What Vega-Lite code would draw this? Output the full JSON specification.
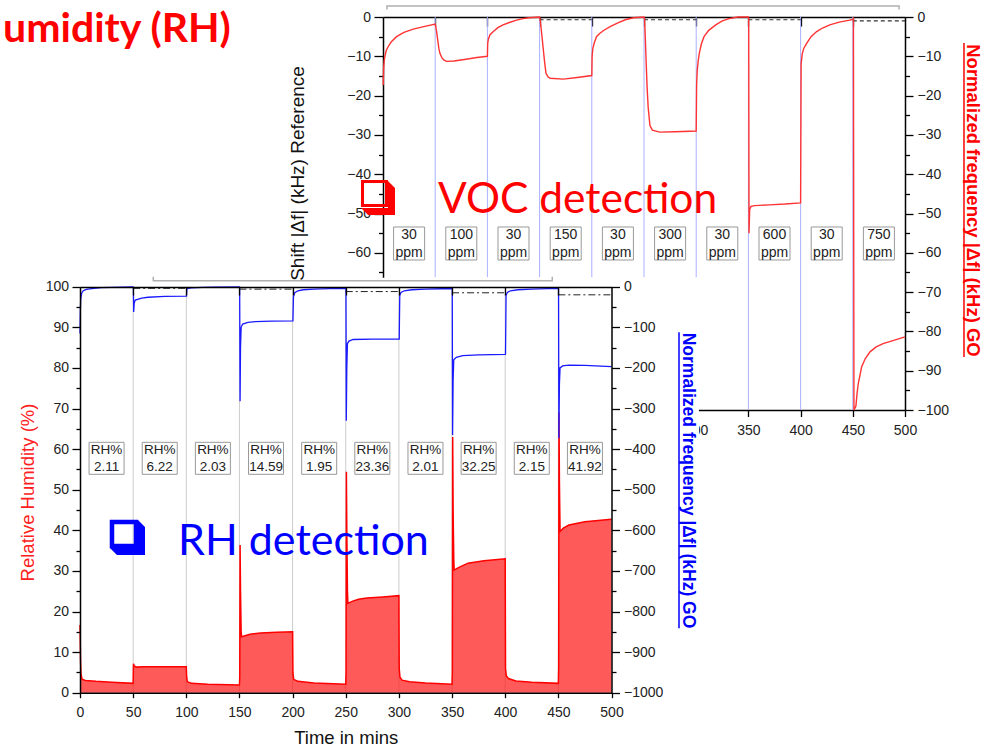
{
"$schema": "https://vega.github.io/schema/vega-lite/v6.json",
"width": 994, "height": 748, "autosize": "none", "padding": 0, "background": "#ffffff",
"config": {"view": {"stroke": null}, "axis": {"grid": false, "domainColor": "#000000", "domainWidth": 1.5, "tickColor": "#000000", "tickWidth": 1.3, "labelFont": "Liberation Sans", "labelFontSize": 14, "labelColor": "#222222", "titleFont": "Liberation Sans", "labelFlush": false, "labelOverlap": false, "titleFontWeight": "normal", "format": "d"}},
"datasets": {
"voc": [{"t":0.2,"v":-17.3},{"t":0.6,"v":-13},{"t":1.2,"v":-11},{"t":2,"v":-9.8},{"t":3,"v":-8.6},{"t":5,"v":-7.5},{"t":8,"v":-6.3},{"t":13,"v":-5},{"t":20,"v":-3.9},{"t":29,"v":-3.1},{"t":38,"v":-2.5},{"t":50,"v":-1.8},
{"t":50.4,"v":-2.2},{"t":51.5,"v":-4},{"t":52.5,"v":-6},{"t":53.5,"v":-8},{"t":54.6,"v":-9.3},{"t":56.5,"v":-10.4},{"t":58.5,"v":-11},{"t":61,"v":-11.3},{"t":68,"v":-11.2},{"t":78,"v":-10.8},{"t":90,"v":-10.3},{"t":100,"v":-10},
{"t":100.3,"v":-6.7},{"t":101,"v":-5.6},{"t":102.5,"v":-4.5},{"t":105.7,"v":-3.7},{"t":110,"v":-2.7},{"t":115,"v":-2},{"t":121,"v":-1.4},{"t":128,"v":-0.8},{"t":134,"v":-0.4},{"t":140,"v":-0.2},{"t":150,"v":0},
{"t":150.4,"v":-0.5},{"t":151.5,"v":-3},{"t":152.5,"v":-5.5},{"t":153.6,"v":-8.4},{"t":154.8,"v":-11.5},{"t":156.1,"v":-14.3},{"t":158,"v":-15.2},{"t":160,"v":-15.6},{"t":172.7,"v":-15.8},{"t":186,"v":-15.4},{"t":200,"v":-14.9},
{"t":200.3,"v":-10},{"t":201,"v":-8},{"t":202.5,"v":-6.5},{"t":204.5,"v":-5},{"t":207.5,"v":-4.2},{"t":212,"v":-3.3},{"t":218,"v":-2.4},{"t":225,"v":-1.5},{"t":232,"v":-0.7},{"t":240,"v":-0.2},{"t":250,"v":0},
{"t":250.5,"v":-0.5},{"t":251.2,"v":-5},{"t":252,"v":-11},{"t":253,"v":-18},{"t":254,"v":-23},{"t":255.7,"v":-27.6},{"t":258,"v":-28.8},{"t":265,"v":-29.3},{"t":280,"v":-29.2},{"t":300,"v":-29},
{"t":300.4,"v":-17.3},{"t":301,"v":-13.5},{"t":302,"v":-11},{"t":303,"v":-9.2},{"t":305,"v":-6.8},{"t":307.5,"v":-5},{"t":312,"v":-3.4},{"t":318.7,"v":-2},{"t":325,"v":-1},{"t":331.5,"v":-0.4},{"t":340,"v":0},{"t":350,"v":0},
{"t":350.3,"v":-0.3},{"t":350.6,"v":-55},{"t":351.2,"v":-49},{"t":352.5,"v":-48.2},{"t":356,"v":-48},{"t":370,"v":-47.8},{"t":385,"v":-47.6},{"t":400,"v":-47.3},
{"t":400.5,"v":-12},{"t":401.5,"v":-9.5},{"t":403,"v":-8},{"t":405.8,"v":-6.7},{"t":410,"v":-5},{"t":415.4,"v":-3.7},{"t":421,"v":-2.8},{"t":428,"v":-2},{"t":437,"v":-1.3},{"t":447,"v":-0.8},{"t":450,"v":-0.6},
{"t":450.6,"v":-0.4},{"t":451.1,"v":-100},{"t":453,"v":-99},{"t":454,"v":-96},{"t":455.3,"v":-93.2},{"t":458.5,"v":-89},{"t":462,"v":-86.9},{"t":466.5,"v":-85.2},{"t":472,"v":-84},{"t":479,"v":-83.1},{"t":490,"v":-82.2},{"t":500,"v":-81.4}],
"vref": [{"t":150,"v":-0.7,"s":1},{"t":200,"v":-0.7,"s":1},{"t":250,"v":-0.7,"s":2},{"t":300,"v":-0.7,"s":2},{"t":350,"v":-0.7,"s":3},{"t":400,"v":-0.7,"s":3},{"t":450,"v":-1,"s":4},{"t":500,"v":-1,"s":4}],
"tv1": [{"t":50},{"t":100},{"t":150},{"t":200},{"t":250},{"t":300}],
"tv2": [{"t":350},{"t":400},{"t":450}],
"ppm": [{"t":25,"label":"30\nppm"},{"t":75,"label":"100\nppm"},{"t":125,"label":"30\nppm"},{"t":175,"label":"150\nppm"},{"t":225,"label":"30\nppm"},{"t":275,"label":"300\nppm"},{"t":325,"label":"30\nppm"},{"t":375,"label":"600\nppm"},{"t":425,"label":"30\nppm"},{"t":475,"label":"750\nppm"}],
"tbr": [{"t":3.8,"v":1.9,"i":0},{"t":3.8,"v":2.8,"i":1},{"t":494.3,"v":2.8,"i":2},{"t":494.3,"v":1.9,"i":3}],
"bbr": [{"t":68.96,"v":102.46,"i":0},{"t":68.96,"v":101.48,"i":1},{"t":444.3,"v":101.48,"i":2},{"t":444.3,"v":102.46,"i":3}],
"bv": [{"t":50},{"t":100},{"t":150},{"t":200},{"t":250},{"t":300},{"t":350},{"t":400},{"t":450}],
"rh": [{"t":0,"v":16.7},{"t":0.5,"v":8},{"t":1,"v":4.5},{"t":2,"v":3.3},{"t":5,"v":3},{"t":15,"v":2.8},{"t":30,"v":2.6},{"t":50,"v":2.3},
{"t":50.3,"v":7.1},{"t":51,"v":6.6},{"t":53,"v":6.3},{"t":60,"v":6.4},{"t":80,"v":6.4},{"t":100,"v":6.4},
{"t":100.3,"v":4},{"t":101,"v":2.7},{"t":105,"v":2.3},{"t":120,"v":2.1},{"t":150,"v":1.9},
{"t":150.3,"v":4},{"t":150.6,"v":36.4},{"t":151,"v":25},{"t":151.6,"v":15},{"t":152,"v":13.8},{"t":160,"v":14.4},{"t":170,"v":14.7},{"t":185,"v":14.9},{"t":200,"v":15},
{"t":200.3,"v":5},{"t":201,"v":3.3},{"t":205,"v":2.8},{"t":220,"v":2.4},{"t":250,"v":2.1},
{"t":250.3,"v":5},{"t":250.6,"v":54.4},{"t":251,"v":40},{"t":251.6,"v":25},{"t":252,"v":22},{"t":256,"v":22.5},{"t":262,"v":23},{"t":270,"v":23.3},{"t":285,"v":23.6},{"t":300,"v":23.9},
{"t":300.3,"v":6},{"t":301,"v":3.8},{"t":303,"v":3.1},{"t":310,"v":2.7},{"t":325,"v":2.4},{"t":350,"v":2.1},
{"t":350.3,"v":5},{"t":350.6,"v":63},{"t":351,"v":45},{"t":351.6,"v":33},{"t":352,"v":30.2},{"t":356,"v":30.8},{"t":365,"v":31.9},{"t":380,"v":32.5},{"t":400,"v":33},
{"t":400.3,"v":6},{"t":401,"v":4.2},{"t":403,"v":3.5},{"t":410,"v":2.9},{"t":425,"v":2.6},{"t":450,"v":2.3},
{"t":450.3,"v":6},{"t":450.6,"v":69},{"t":451,"v":52},{"t":451.6,"v":39.7},{"t":455,"v":40.6},{"t":460,"v":41.3},{"t":475,"v":42.1},{"t":490,"v":42.5},{"t":500,"v":42.7}],
"go": [{"t":0,"v":-115},{"t":0.3,"v":-60},{"t":0.7,"v":-30},{"t":1.6,"v":-16},{"t":3,"v":-10},{"t":6,"v":-6.5},{"t":11,"v":-4.5},{"t":20,"v":-2.5},{"t":30,"v":-1.5},{"t":40,"v":-1},{"t":50,"v":-0.8},
{"t":50.2,"v":-1},{"t":50.5,"v":-62},{"t":51,"v":-40},{"t":52,"v":-33},{"t":58,"v":-28},{"t":64,"v":-26},{"t":80,"v":-24},{"t":100,"v":-23},
{"t":100.2,"v":-23},{"t":100.6,"v":-5},{"t":105,"v":-3},{"t":115,"v":-1.8},{"t":125,"v":-1},{"t":150,"v":-0.5},
{"t":150.2,"v":-1},{"t":150.6,"v":-282},{"t":151,"v":-150},{"t":151.6,"v":-100},{"t":153,"v":-92},{"t":158,"v":-88},{"t":165,"v":-86},{"t":180,"v":-85},{"t":200,"v":-84},
{"t":200.3,"v":-84},{"t":200.8,"v":-25},{"t":202,"v":-15},{"t":205,"v":-10},{"t":210,"v":-7.5},{"t":220,"v":-5.8},{"t":235,"v":-4.5},{"t":250,"v":-4},
{"t":250.2,"v":-5},{"t":250.5,"v":-330},{"t":251,"v":-200},{"t":251.6,"v":-140},{"t":253,"v":-134},{"t":257,"v":-130},{"t":275,"v":-129},{"t":300,"v":-129},
{"t":300.3,"v":-129},{"t":300.8,"v":-22},{"t":302,"v":-14},{"t":305,"v":-10},{"t":312,"v":-7.5},{"t":325,"v":-6},{"t":340,"v":-5},{"t":350,"v":-4.5},
{"t":350.2,"v":-5},{"t":350.5,"v":-365},{"t":351,"v":-230},{"t":351.6,"v":-180},{"t":354,"v":-174},{"t":360,"v":-170},{"t":375,"v":-168},{"t":400,"v":-166.5},
{"t":400.3,"v":-166},{"t":400.8,"v":-22},{"t":402,"v":-14},{"t":405,"v":-10},{"t":412,"v":-7.5},{"t":425,"v":-5.8},{"t":440,"v":-4.8},{"t":450,"v":-4.5},
{"t":450.2,"v":-5},{"t":450.5,"v":-373},{"t":451,"v":-240},{"t":451.6,"v":-200},{"t":454,"v":-195},{"t":460,"v":-193},{"t":475,"v":-194},{"t":490,"v":-195.5},{"t":500,"v":-197}],
"bref": [{"t":50,"v":-4,"s":1},{"t":100,"v":-4,"s":1},{"t":150,"v":-6,"s":2},{"t":200,"v":-6,"s":2},{"t":250,"v":-12,"s":3},{"t":300,"v":-12,"s":3},{"t":350,"v":-15,"s":4},{"t":400,"v":-15,"s":4},{"t":450,"v":-20,"s":5},{"t":500,"v":-20,"s":5}],
"rhbox": [{"t":25,"label":"RH%\n2.11"},{"t":75,"label":"RH%\n6.22"},{"t":125,"label":"RH%\n2.03"},{"t":175,"label":"RH%\n14.59"},{"t":225,"label":"RH%\n1.95"},{"t":275,"label":"RH%\n23.36"},{"t":325,"label":"RH%\n2.01"},{"t":375,"label":"RH%\n32.25"},{"t":425,"label":"RH%\n2.15"},{"t":475,"label":"RH%\n41.92"}]
},
"resolve": {"scale": {"x": "independent", "y": "independent"}, "axis": {"x": "independent", "y": "independent"}},
"layer": [
{"data": {"name": "tv1"}, "mark": {"type": "rule", "color": "#aab0ff", "strokeWidth": 1},
 "encoding": {"x": {"field": "t", "type": "quantitative", "scale": {"domain": [0,500], "range": [383,905], "nice": false, "zero": false}, "axis": null},
  "y": {"datum": 0, "type": "quantitative", "scale": {"domain": [-100,0], "range": [410,17], "nice": false, "zero": false}, "axis": null}, "y2": {"datum": -66.2}}},
{"data": {"name": "tv2"}, "mark": {"type": "rule", "color": "#aab0ff", "strokeWidth": 1},
 "encoding": {"x": {"field": "t", "type": "quantitative", "scale": {"domain": [0,500], "range": [383,905], "nice": false, "zero": false}, "axis": null},
  "y": {"datum": 0, "type": "quantitative", "scale": {"domain": [-100,0], "range": [410,17], "nice": false, "zero": false}, "axis": null}, "y2": {"datum": -100}}},
{"data": {"name": "vref"}, "mark": {"type": "line", "color": "#333333", "strokeWidth": 1.2, "strokeDash": [4,3]},
 "encoding": {"x": {"field": "t", "type": "quantitative", "scale": {"domain": [0,500], "range": [383,905], "nice": false, "zero": false}, "axis": null},
  "y": {"field": "v", "type": "quantitative", "scale": {"domain": [-100,0], "range": [410,17], "nice": false, "zero": false}, "axis": null}, "detail": {"field": "s"}}},
{"data": {"name": "voc"}, "mark": {"type": "line", "color": "#ff3333", "strokeWidth": 1.4},
 "encoding": {"x": {"field": "t", "type": "quantitative", "scale": {"domain": [0,500], "range": [383,905], "nice": false, "zero": false}, "axis": null},
  "y": {"field": "v", "type": "quantitative", "scale": {"domain": [-100,0], "range": [410,17], "nice": false, "zero": false}, "axis": null}}},
{"data": {"name": "ppm"}, "mark": {"type": "point", "shape": "M-0.94,-1H0.94V1H-0.94Z", "size": 1089, "filled": true, "color": "#ffffff", "stroke": "#999999", "strokeWidth": 1, "opacity": 1},
 "encoding": {"x": {"field": "t", "type": "quantitative", "scale": {"domain": [0,500], "range": [383,905], "nice": false, "zero": false}, "axis": null},
  "y": {"datum": -57.63, "type": "quantitative", "scale": {"domain": [-100,0], "range": [410,17], "nice": false, "zero": false}, "axis": null}}},
{"data": {"name": "ppm"}, "mark": {"type": "text", "lineBreak": "\n", "font": "Liberation Sans", "fontSize": 14, "lineHeight": 18, "color": "#222222", "align": "center", "baseline": "middle"},
 "encoding": {"x": {"field": "t", "type": "quantitative", "scale": {"domain": [0,500], "range": [383,905], "nice": false, "zero": false}, "axis": null},
  "y": {"datum": -55.47, "type": "quantitative", "scale": {"domain": [-100,0], "range": [410,17], "nice": false, "zero": false}, "axis": null}, "text": {"field": "label"}}},
{"data": {"name": "tbr"}, "mark": {"type": "line", "color": "#b0b0b0", "strokeWidth": 1.5},
 "encoding": {"x": {"field": "t", "type": "quantitative", "scale": {"domain": [0,500], "range": [383,905], "nice": false, "zero": false}, "axis": null},
  "y": {"field": "v", "type": "quantitative", "scale": {"domain": [-100,0], "range": [410,17], "nice": false, "zero": false}, "axis": null}, "order": {"field": "i"}}},
{"data": {"values": [{}]}, "mark": {"type": "rule", "color": "#ff0000", "strokeWidth": 1.5},
 "encoding": {"x": {"datum": 556.5, "type": "quantitative", "scale": {"domain": [0,500], "range": [383,905], "nice": false, "zero": false}, "axis": null},
  "y": {"datum": -6.6, "type": "quantitative", "scale": {"domain": [-100,0], "range": [410,17], "nice": false, "zero": false}, "axis": null}, "y2": {"datum": -86.5}}},
{"data": {"values": [{}]}, "mark": {"type": "point", "opacity": 0},
 "encoding": {"x": {"datum": 0, "type": "quantitative", "scale": {"domain": [0,500], "range": [383,905], "nice": false, "zero": false},
   "axis": {"orient": "bottom", "offset": -338, "values": [0,50,100,150,200,250,300,350,400,450,500], "tickSize": 6.5, "labelPadding": 7, "title": null, "zindex": 0}},
  "y": {"datum": 0, "type": "quantitative", "scale": {"domain": [-66.2,0], "range": [277.2,17], "nice": false, "zero": false},
   "axis": {"orient": "left", "offset": -383, "values": [0,-10,-20,-30,-40,-50,-60], "tickSize": 9, "labelPadding": 3.5, "zindex": 0,
    "title": "Shift |Δf| (kHz) Reference", "titleFontSize": 19, "titleColor": "#111111", "titleX": -80, "titleY": 173, "titleAngle": -90, "titleAlign": "center", "titleBaseline": "alphabetic"}}}},
{"data": {"values": [{}]}, "mark": {"type": "point", "opacity": 0},
 "encoding": {"x": {"datum": 0, "type": "quantitative", "scale": {"domain": [0,500], "range": [383,905], "nice": false, "zero": false},
   "axis": {"orient": "top", "offset": -17, "values": [50,100,150,200,250,300,350,400,450], "tickSize": -9, "labels": false, "title": null, "zindex": 0}},
  "y": {"datum": 0, "type": "quantitative", "scale": {"domain": [-66.2,0], "range": [277.2,17], "nice": false, "zero": false},
   "axis": {"orient": "left", "offset": -383, "values": [-5,-15,-25,-35,-45,-55,-65], "tickSize": 4.5, "labels": false, "domain": false, "title": null, "zindex": 0}}}},
{"data": {"values": [{}]}, "mark": {"type": "point", "opacity": 0},
 "encoding": {"y": {"datum": 0, "type": "quantitative", "scale": {"domain": [-100,0], "range": [410,17], "nice": false, "zero": false},
   "axis": {"orient": "right", "offset": -89, "values": [0,-10,-20,-30,-40,-50,-60,-70,-80,-90,-100], "tickSize": 8, "labelPadding": 4, "zindex": 0,
    "title": "Normalized frequency |Δf| (kHz) GO", "titleFontSize": 18.5, "titleFontWeight": "bold", "titleColor": "#ff0000", "titleX": 61, "titleY": 200, "titleAngle": 90, "titleAlign": "center", "titleBaseline": "alphabetic"}}}},
{"data": {"values": [{}]}, "mark": {"type": "point", "opacity": 0},
 "encoding": {"y": {"datum": 0, "type": "quantitative", "scale": {"domain": [-100,0], "range": [410,17], "nice": false, "zero": false},
   "axis": {"orient": "right", "offset": -89, "values": [-5,-15,-25,-35,-45,-55,-65,-75,-85,-95], "tickSize": 4.5, "labels": false, "domain": false, "title": null, "zindex": 0}}}},
{"data": {"values": [{}]}, "mark": {"type": "point", "shape": "M0.571,-0.943L0.971,-0.543L0.971,1L-0.571,1L-0.971,0.6L0.571,0.6Z", "size": 1225, "filled": true, "color": "#ff0000", "opacity": 1},
 "encoding": {"x": {"datum": -4.79, "type": "quantitative", "scale": {"domain": [0,500], "range": [383,905], "nice": false, "zero": false}, "axis": null},
  "y": {"datum": -45.93, "type": "quantitative", "scale": {"domain": [-100,0], "range": [410,17], "nice": false, "zero": false}, "axis": null}}},
{"data": {"values": [{}]}, "mark": {"type": "point", "shape": "M-0.886,-0.914H0.486V0.457H-0.886Z", "size": 1225, "filled": false, "color": "#ff0000", "strokeWidth": 3, "opacity": 1},
 "encoding": {"x": {"datum": -4.79, "type": "quantitative", "scale": {"domain": [0,500], "range": [383,905], "nice": false, "zero": false}, "axis": null},
  "y": {"datum": -45.93, "type": "quantitative", "scale": {"domain": [-100,0], "range": [410,17], "nice": false, "zero": false}, "axis": null}}},
{"data": {"values": [{}]}, "mark": {"type": "text", "text": "VOC detection", "font": "Lato", "fontSize": 42.5, "color": "#ff0000", "align": "left", "baseline": "alphabetic"},
 "encoding": {"x": {"datum": 52.7, "type": "quantitative", "scale": {"domain": [0,500], "range": [383,905], "nice": false, "zero": false}, "axis": null},
  "y": {"datum": -49.87, "type": "quantitative", "scale": {"domain": [-100,0], "range": [410,17], "nice": false, "zero": false}, "axis": null}}},
{"data": {"values": [{}]}, "mark": {"type": "rect", "color": "#ffffff", "opacity": 1},
 "encoding": {"x": {"datum": -76, "type": "quantitative", "scale": {"domain": [0,500], "range": [80,611.5], "nice": false, "zero": false}, "axis": null}, "x2": {"datum": 582.3},
  "y": {"datum": 95, "type": "quantitative", "scale": {"domain": [0,100], "range": [692.7,286.7], "nice": false, "zero": false}, "axis": null}, "y2": {"datum": -14}}},
{"data": {"name": "bv"}, "mark": {"type": "rule", "color": "#cccccc", "strokeWidth": 1},
 "encoding": {"x": {"field": "t", "type": "quantitative", "scale": {"domain": [0,500], "range": [80,611.5], "nice": false, "zero": false}, "axis": null},
  "y": {"datum": 0, "type": "quantitative", "scale": {"domain": [0,100], "range": [692.7,286.7], "nice": false, "zero": false}, "axis": null}, "y2": {"datum": 100}}},
{"data": {"name": "rh"}, "mark": {"type": "area", "color": "#ff1a1a", "opacity": 0.72},
 "encoding": {"x": {"field": "t", "type": "quantitative", "scale": {"domain": [0,500], "range": [80,611.5], "nice": false, "zero": false}, "axis": null},
  "y": {"field": "v", "type": "quantitative", "scale": {"domain": [0,100], "range": [692.7,286.7], "nice": false, "zero": false}, "axis": null}, "y2": {"datum": 0}}},
{"data": {"name": "rh"}, "mark": {"type": "line", "color": "#ff0000", "strokeWidth": 1.5},
 "encoding": {"x": {"field": "t", "type": "quantitative", "scale": {"domain": [0,500], "range": [80,611.5], "nice": false, "zero": false}, "axis": null},
  "y": {"field": "v", "type": "quantitative", "scale": {"domain": [0,100], "range": [692.7,286.7], "nice": false, "zero": false}, "axis": null}}},
{"data": {"name": "go"}, "mark": {"type": "line", "color": "#1a1aff", "strokeWidth": 1.3},
 "encoding": {"x": {"field": "t", "type": "quantitative", "scale": {"domain": [0,500], "range": [80,611.5], "nice": false, "zero": false}, "axis": null},
  "y": {"field": "v", "type": "quantitative", "scale": {"domain": [-1000,0], "range": [692.7,286.7], "nice": false, "zero": false}, "axis": null}}},
{"data": {"name": "bref"}, "mark": {"type": "line", "color": "#222222", "strokeWidth": 1, "strokeDash": [7,3,2,3]},
 "encoding": {"x": {"field": "t", "type": "quantitative", "scale": {"domain": [0,500], "range": [80,611.5], "nice": false, "zero": false}, "axis": null},
  "y": {"field": "v", "type": "quantitative", "scale": {"domain": [-1000,0], "range": [692.7,286.7], "nice": false, "zero": false}, "axis": null}, "detail": {"field": "s"}}},
{"data": {"name": "rhbox"}, "mark": {"type": "point", "shape": "M-1,-0.914H1V0.914H-1Z", "size": 1225, "filled": true, "color": "#ffffff", "stroke": "#999999", "strokeWidth": 1, "opacity": 1},
 "encoding": {"x": {"field": "t", "type": "quantitative", "scale": {"domain": [0,500], "range": [80,611.5], "nice": false, "zero": false}, "axis": null},
  "y": {"datum": 57.73, "type": "quantitative", "scale": {"domain": [0,100], "range": [692.7,286.7], "nice": false, "zero": false}, "axis": null}}},
{"data": {"name": "rhbox"}, "mark": {"type": "text", "lineBreak": "\n", "font": "Liberation Sans", "fontSize": 13.5, "lineHeight": 16.5, "color": "#222222", "align": "center", "baseline": "middle"},
 "encoding": {"x": {"field": "t", "type": "quantitative", "scale": {"domain": [0,500], "range": [80,611.5], "nice": false, "zero": false}, "axis": null},
  "y": {"datum": 59.76, "type": "quantitative", "scale": {"domain": [0,100], "range": [692.7,286.7], "nice": false, "zero": false}, "axis": null}, "text": {"field": "label"}}},
{"data": {"values": [{}]}, "mark": {"type": "point", "opacity": 0},
 "encoding": {"x": {"datum": 0, "type": "quantitative", "scale": {"domain": [0,500], "range": [80,611.5], "nice": false, "zero": false},
   "axis": {"orient": "bottom", "offset": -55.3, "values": [0,50,100,150,200,250,300,350,400,450,500], "tickSize": 5, "labelPadding": 8, "zindex": 1,
    "title": "Time in mins", "titleFontSize": 18.5, "titleColor": "#111111", "titleY": 50.6, "titleBaseline": "alphabetic"}},
  "y": {"datum": 0, "type": "quantitative", "scale": {"domain": [0,100], "range": [692.7,286.7], "nice": false, "zero": false},
   "axis": {"orient": "left", "offset": -80, "values": [0,10,20,30,40,50,60,70,80,90,100], "tickSize": 8, "labelPadding": 3.5, "zindex": 1,
    "title": "Relative Humidity (%)", "titleFontSize": 18.5, "titleColor": "#ff2020", "titleX": -46.7, "titleY": 492, "titleAngle": -90, "titleAlign": "center", "titleBaseline": "alphabetic"}}}},
{"data": {"values": [{}]}, "mark": {"type": "point", "opacity": 0},
 "encoding": {"x": {"datum": 0, "type": "quantitative", "scale": {"domain": [0,500], "range": [80,611.5], "nice": false, "zero": false},
   "axis": {"orient": "top", "offset": -287, "values": [50,100,150,200,250,300,350,400,450], "tickSize": -8, "labels": false, "title": null, "zindex": 1}},
  "y": {"datum": 0, "type": "quantitative", "scale": {"domain": [0,100], "range": [692.7,286.7], "nice": false, "zero": false},
   "axis": {"orient": "left", "offset": -80, "values": [5,15,25,35,45,55,65,75,85,95], "tickSize": 4, "labels": false, "domain": false, "title": null, "zindex": 1}}}},
{"data": {"values": [{}]}, "mark": {"type": "point", "opacity": 0},
 "encoding": {"y": {"datum": 0, "type": "quantitative", "scale": {"domain": [-1000,0], "range": [692.7,286.7], "nice": false, "zero": false},
   "axis": {"orient": "right", "offset": -382.5, "values": [0,-100,-200,-300,-400,-500,-600,-700,-800,-900,-1000], "format": "d", "tickSize": 8, "labelPadding": 4, "zindex": 1,
    "title": "Normalized frequency |Δf| (kHz) GO", "titleFontSize": 17.5, "titleFontWeight": "bold", "titleColor": "#0000ff", "titleX": 70.5, "titleY": 480, "titleAngle": 90, "titleAlign": "center", "titleBaseline": "alphabetic"}}}},
{"data": {"values": [{}]}, "mark": {"type": "point", "opacity": 0},
 "encoding": {"y": {"datum": 0, "type": "quantitative", "scale": {"domain": [-1000,0], "range": [692.7,286.7], "nice": false, "zero": false},
   "axis": {"orient": "right", "offset": -382.5, "values": [-50,-150,-250,-350,-450,-550,-650,-750,-850,-950], "tickSize": 4.5, "labels": false, "domain": false, "title": null, "zindex": 1}}}},
{"data": {"name": "bbr"}, "mark": {"type": "line", "color": "#b0b0b0", "strokeWidth": 1.5},
 "encoding": {"x": {"field": "t", "type": "quantitative", "scale": {"domain": [0,500], "range": [80,611.5], "nice": false, "zero": false}, "axis": null},
  "y": {"field": "v", "type": "quantitative", "scale": {"domain": [0,100], "range": [692.7,286.7], "nice": false, "zero": false}, "axis": null}, "order": {"field": "i"}}},
{"data": {"values": [{}]}, "mark": {"type": "rule", "color": "#0000ff", "strokeWidth": 1.5},
 "encoding": {"x": {"datum": 563.5, "type": "quantitative", "scale": {"domain": [0,500], "range": [80,611.5], "nice": false, "zero": false}, "axis": null},
  "y": {"datum": 88.8, "type": "quantitative", "scale": {"domain": [0,100], "range": [692.7,286.7], "nice": false, "zero": false}, "axis": null}, "y2": {"datum": 15.9}}},
{"data": {"values": [{}]}, "mark": {"type": "point", "shape": "M0.6,-1L1,-0.6L1,1L-0.6,1L-1,0.6L0.6,0.6Z", "size": 1225, "filled": true, "color": "#0000ff", "opacity": 1},
 "encoding": {"x": {"datum": 44.68, "type": "quantitative", "scale": {"domain": [0,500], "range": [80,611.5], "nice": false, "zero": false}, "axis": null},
  "y": {"datum": 38.23, "type": "quantitative", "scale": {"domain": [0,100], "range": [692.7,286.7], "nice": false, "zero": false}, "axis": null}}},
{"data": {"values": [{}]}, "mark": {"type": "point", "shape": "M-0.886,-0.886H0.486V0.486H-0.886Z", "size": 1225, "filled": false, "color": "#0000ff", "strokeWidth": 4.5, "opacity": 1},
 "encoding": {"x": {"datum": 44.68, "type": "quantitative", "scale": {"domain": [0,500], "range": [80,611.5], "nice": false, "zero": false}, "axis": null},
  "y": {"datum": 38.23, "type": "quantitative", "scale": {"domain": [0,100], "range": [692.7,286.7], "nice": false, "zero": false}, "axis": null}}},
{"data": {"values": [{}]}, "mark": {"type": "text", "text": "RH detection", "font": "Lato", "fontSize": 43, "color": "#0000ff", "align": "left", "baseline": "alphabetic"},
 "encoding": {"x": {"datum": 92.2, "type": "quantitative", "scale": {"domain": [0,500], "range": [80,611.5], "nice": false, "zero": false}, "axis": null},
  "y": {"datum": 33.9, "type": "quantitative", "scale": {"domain": [0,100], "range": [692.7,286.7], "nice": false, "zero": false}, "axis": null}}},
{"data": {"values": [{}]}, "mark": {"type": "text", "text": "umidity (RH)", "font": "Lato", "fontSize": 41, "fontWeight": "bold", "color": "#ff0000", "align": "left", "baseline": "alphabetic"},
 "encoding": {"x": {"datum": -72.4, "type": "quantitative", "scale": {"domain": [0,500], "range": [80,611.5], "nice": false, "zero": false}, "axis": null},
  "y": {"datum": 160.27, "type": "quantitative", "scale": {"domain": [0,100], "range": [692.7,286.7], "nice": false, "zero": false}, "axis": null}}}
]
}
